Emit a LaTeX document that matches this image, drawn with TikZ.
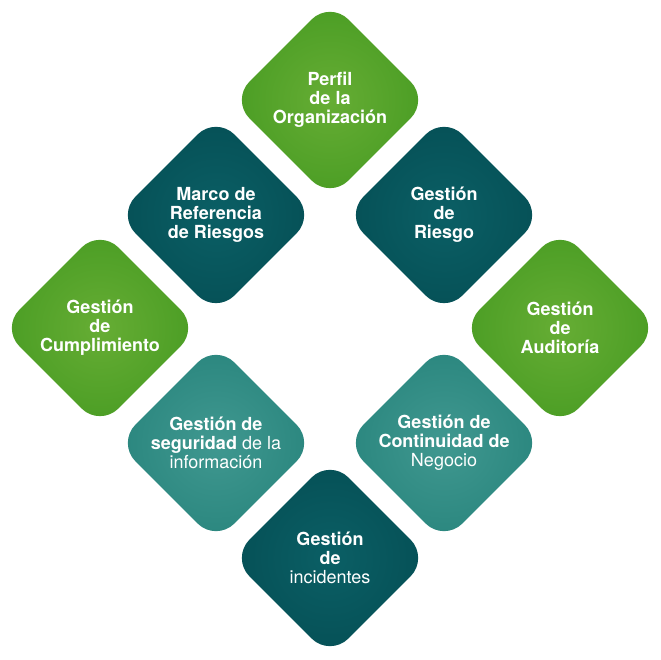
\documentclass[tikz,border=0pt]{standalone}
\usepackage{fontspec}
\setmainfont{TeX Gyre Heros}
\usetikzlibrary{shapes.geometric}

\definecolor{leafgreen}{RGB}{102,173,52}
\definecolor{leafgreendk}{RGB}{74,157,36}
\definecolor{deepteal}{RGB}{11,95,101}
\definecolor{deeptealdk}{RGB}{5,80,86}
\definecolor{seateal}{RGB}{64,152,144}
\definecolor{seatealdk}{RGB}{42,134,126}

\tikzset{
    tile/.style={diamond, aspect=1, minimum width=198pt, minimum height=198pt,
        inner sep=0pt, rounded corners=26pt, align=center, text=white,
        font=\fontsize{18}{19}\selectfont\bfseries},
    greentile/.style={tile, inner color=leafgreen, outer color=leafgreendk},
    darktile/.style={tile, inner color=deepteal, outer color=deeptealdk},
    lighttile/.style={tile, inner color=seateal, outer color=seatealdk}
}

\begin{document}
\begin{tikzpicture}[x=1pt, y=1pt]
    \useasboundingbox (0,0) rectangle (660,660);

    % Top of the ring
    \node[greentile] (perfil) at (330,560) {Perfil\\de la\\Organización};

    % Second row
    \node[darktile] (marco) at (216,445) {Marco de\\Referencia\\de Riesgos};
    \node[darktile] (riesgo) at (444,445) {Gestión\\de\\Riesgo};

    % Middle row
    \node[greentile] (cumplimiento) at (100,332) {Gestión\\de\\Cumplimiento};
    \node[greentile] (auditoria) at (560,332) {Gestión\\de\\Auditoría};

    % Fourth row
    \node[lighttile] (seguridad) at (216,217) {Gestión de\\seguridad {\mdseries de la}\\{\mdseries información}};
    \node[lighttile] (continuidad) at (444,217) {Gestión de\\Continuidad de\\{\mdseries Negocio}};

    % Bottom of the ring
    \node[darktile] (incidentes) at (330,102) {Gestión\\de\\{\mdseries incidentes}};
\end{tikzpicture}
\end{document}
